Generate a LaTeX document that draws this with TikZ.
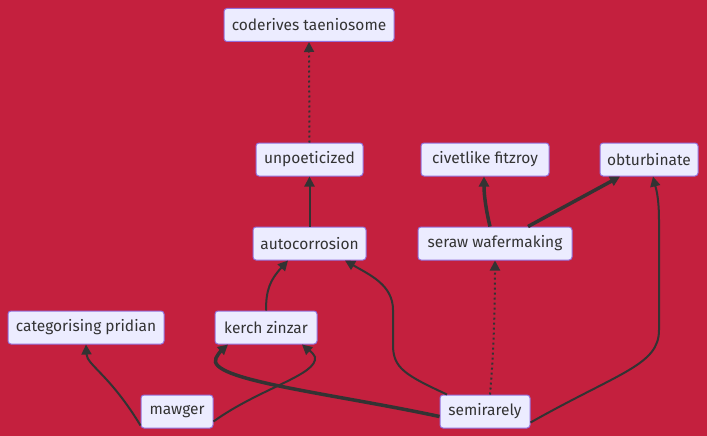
\documentclass[tikz,border=0pt]{standalone}
\usepackage{fontspec}
\setmainfont{Fira Sans}
\usetikzlibrary{arrows.meta}
\definecolor{bg}{HTML}{C4203E}
\definecolor{nodefill}{HTML}{ECECFF}
\definecolor{nodeline}{HTML}{9370DB}
\definecolor{edge}{HTML}{333333}
\begin{document}
\begin{tikzpicture}[x=1pt,y=-1pt,
  box/.style={draw=nodeline,fill=nodefill,line width=1pt,rounded corners=3pt,
    minimum height=33pt,inner sep=0pt,text=edge,font=\fontsize{15.5}{18}\selectfont},
  link/.style={draw=edge,line width=2pt,-{Triangle[length=10pt,width=10pt]}},
  thicklink/.style={link,line width=3.5pt},
  dotlink/.style={link,dash pattern=on 2pt off 3pt}]
\fill[bg] (0,0) rectangle (707,436);
\useasboundingbox (0,0) rectangle (707,436);
\node[box,minimum width=170pt] (cod) at (309,25) {coderives taeniosome};
\node[box,minimum width=107pt] (unp) at (309.5,159.5) {unpoeticized};
\node[box,minimum width=113pt] (aut) at (309.5,243.5) {autocorrosion};
\node[box,minimum width=128pt] (civ) at (485,159.5) {civetlike fitzroy};
\node[box,minimum width=98pt] (obt) at (649,159.5) {obturbinate};
\node[box,minimum width=154pt] (ser) at (495,243.5) {seraw wafermaking};
\node[box,minimum width=156pt] (cat) at (86,327.5) {categorising pridian};
\node[box,minimum width=102pt] (ker) at (266,327.5) {kerch zinzar};
\node[box,minimum width=72pt] (maw) at (177,411.5) {mawger};
\node[box,minimum width=90pt] (sem) at (485,411.5) {semirarely};
% edges
\draw[dotlink] (unp.north) -- (cod.south);
\draw[link] (aut.north) -- (unp.south);
\draw[link] (ker.north) .. controls (266,290) and (270,280) .. (288,260.5);
\draw[link] ([xshift=-38pt]sem.north) .. controls (405,375) and (393,368) .. (393,345)
  -- (393,310) .. controls (393,285) and (370,275) .. (345,260.5);
\draw[dotlink] ([xshift=5pt]sem.north) .. controls (494,350) and (495,300) .. (495,260.5);
\draw[link] ([yshift=-11pt]sem.east) .. controls (620,372) and (659,365) .. (659,330)
  -- (659,220) .. controls (659,195) and (655,185) .. (653,176.5);
\draw[thicklink] ([yshift=-5pt]sem.west) .. controls (330,393) and (205,380) .. (216,358)
  .. controls (219,352) and (224,348) .. (228,344.5);
\draw[link] ([yshift=-14pt]maw.west) .. controls (110,375) and (87,365) .. (86,344.5);
\draw[link] ([yshift=-10pt]maw.east) .. controls (260,388) and (318,375) .. (315,357)
  .. controls (313,352) and (306,348) .. (302,344.5);
\draw[thicklink] ([xshift=-5pt]ser.north) .. controls (486,210) and (484,195) .. (484,176.5);
\draw[thicklink] ([xshift=33pt]ser.north) -- (620,176.5);
\end{tikzpicture}
\end{document}
